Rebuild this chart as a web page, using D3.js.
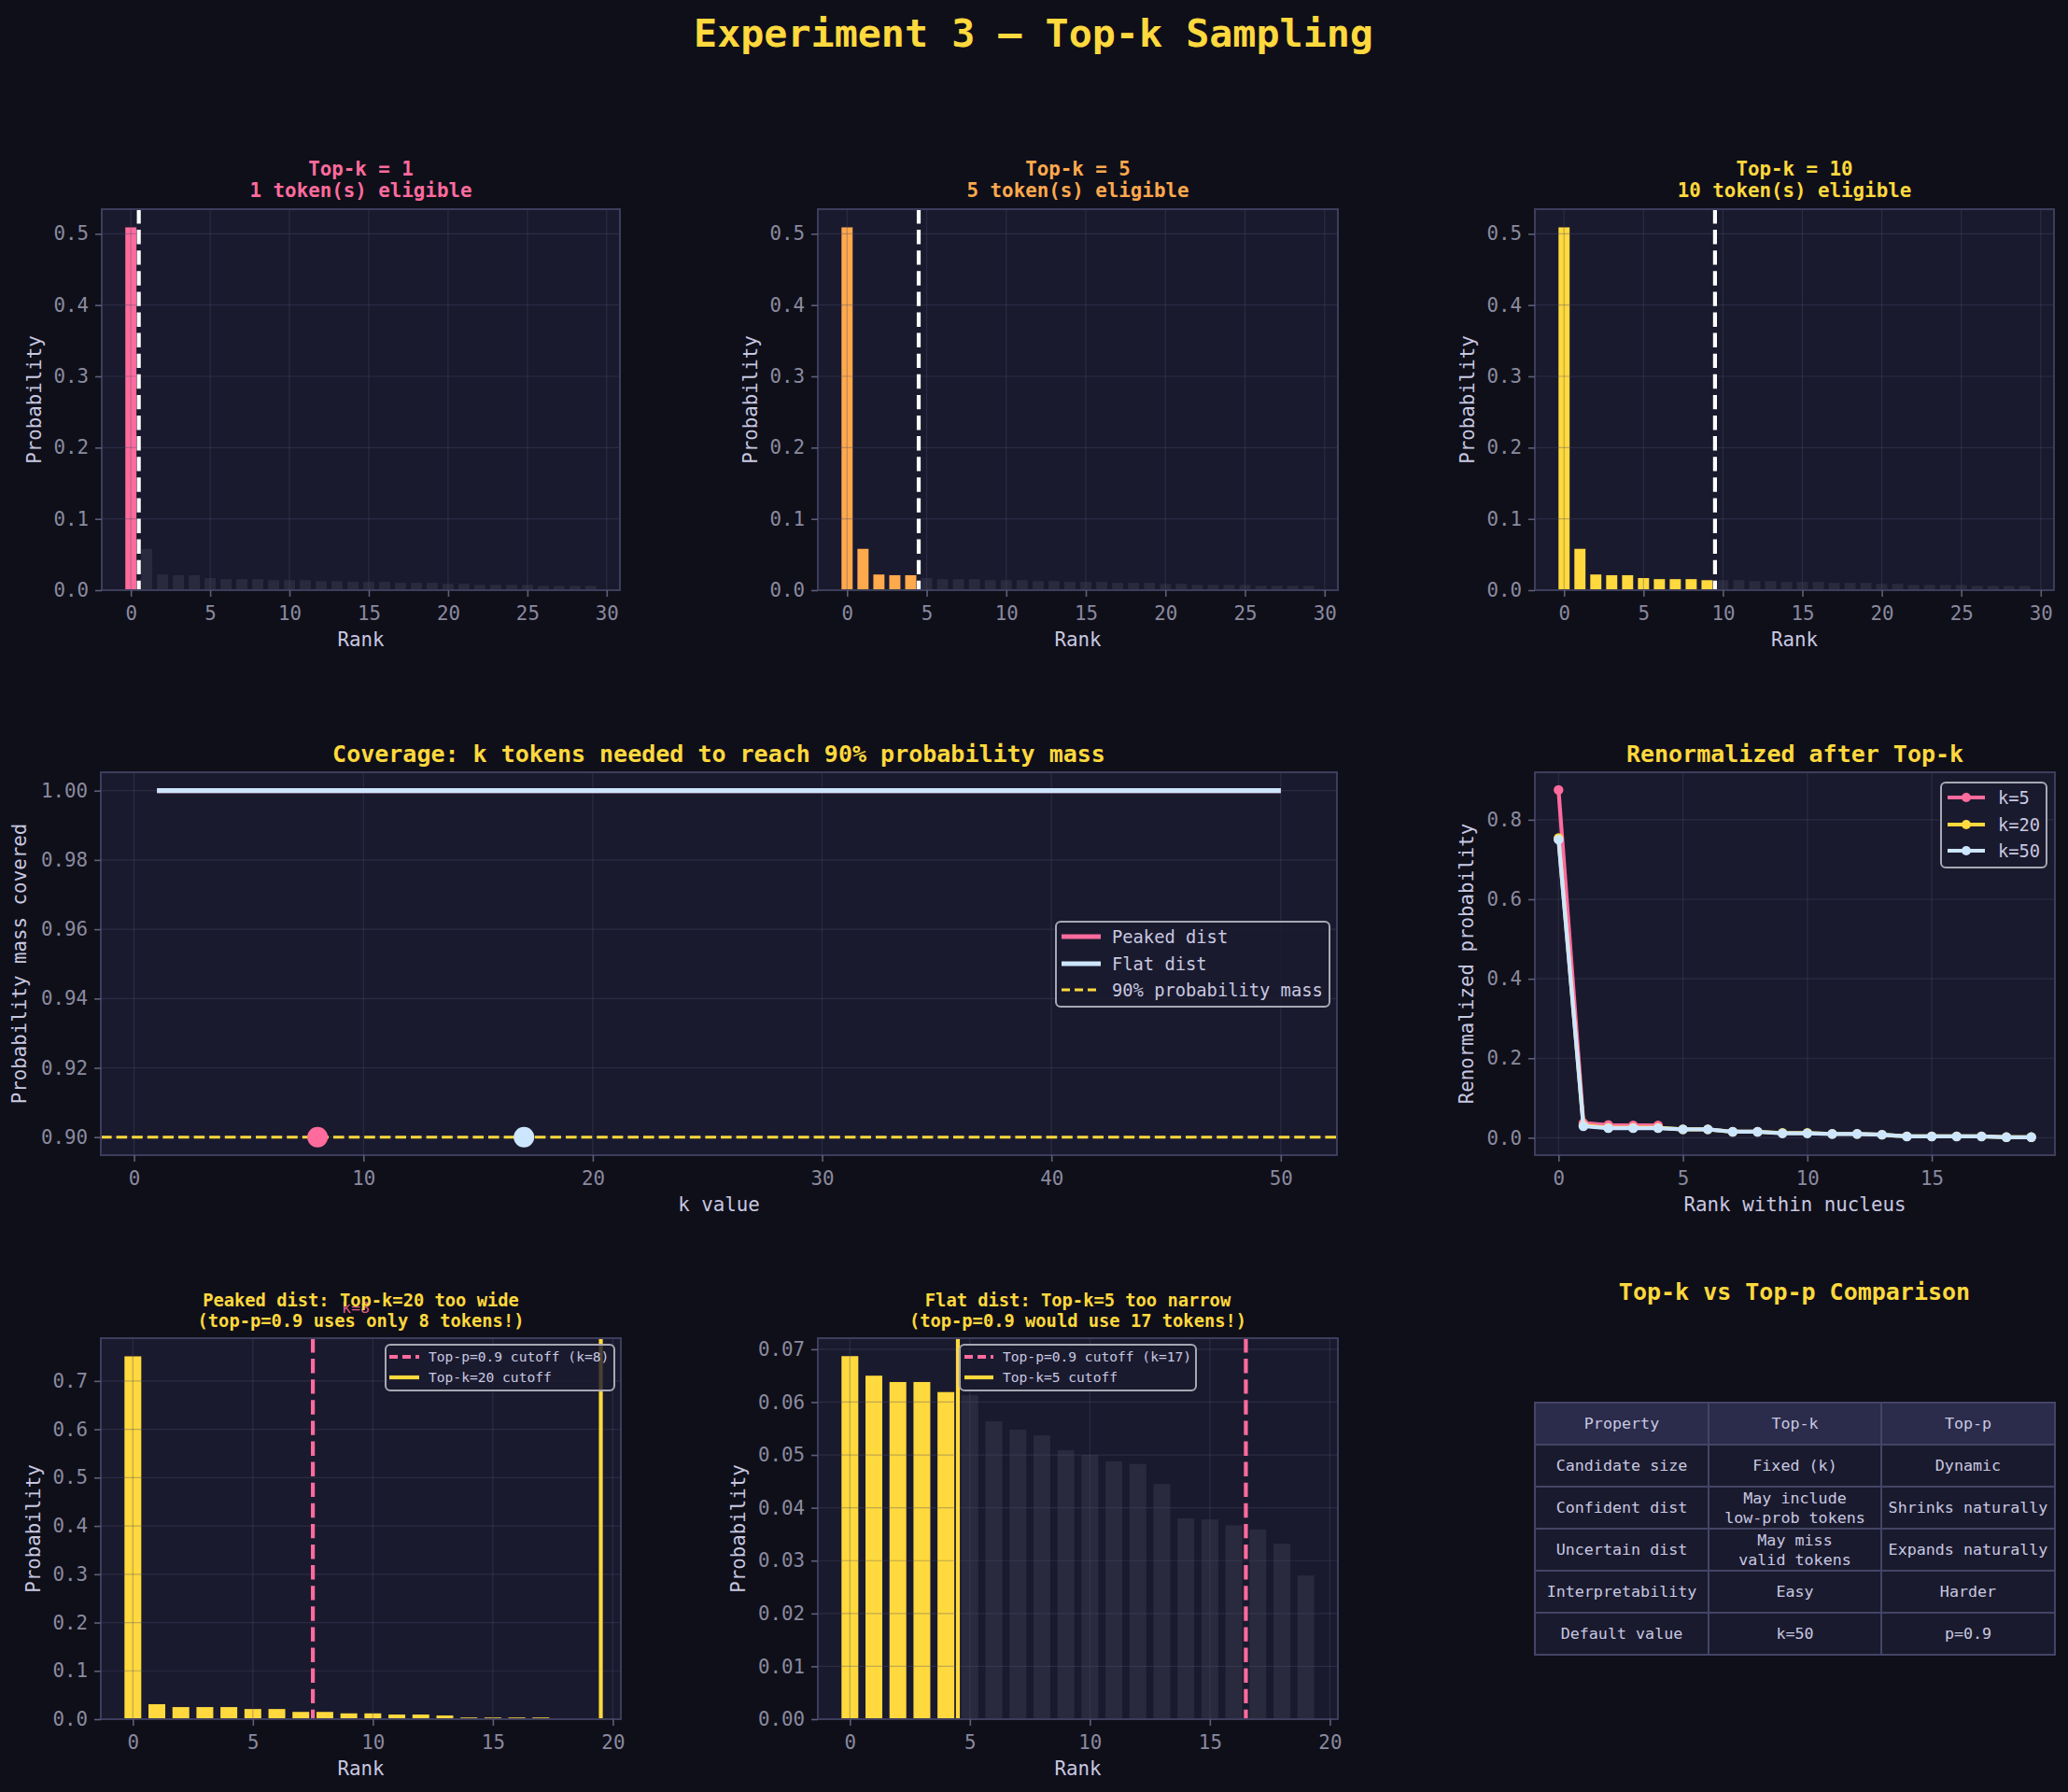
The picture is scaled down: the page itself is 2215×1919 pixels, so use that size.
<!DOCTYPE html>
<html>
<head>
<meta charset="utf-8">
<script src="https://cdn.jsdelivr.net/npm/d3@7"></script>
<style>
  body { margin: 0; background: #0f0f1a; }
  svg { display: block; font-family: "DejaVu Sans Mono", monospace; }
</style>
</head>
<body>
<svg id="fig" width="2215" height="1919"></svg>
<script>
// ---- data ----
// top row: one shared distribution, ranks 0..29
var baseProbs = [0.509, 0.058, 0.022, 0.021, 0.021, 0.017, 0.0155, 0.0155, 0.0155, 0.014,
                 0.014, 0.014, 0.0127, 0.0127, 0.0117, 0.0117, 0.0117, 0.0103, 0.0103, 0.0103,
                 0.0089, 0.0089, 0.0075, 0.0075, 0.0075, 0.0075, 0.0061, 0.0061, 0.0061, 0.0061];
var topKs = [1, 5, 10];
var topTicksX = [0, 5, 10, 15, 20, 25, 30];
var topTicksY = [0, 0.1, 0.2, 0.3, 0.4, 0.5];

// coverage chart
var coverageK = [1, 2, 3, 4, 5, 6, 7, 8, 9, 10, 11, 12, 13, 14, 15, 16, 17, 18, 19, 20, 21, 22, 23, 24, 25,
                 26, 27, 28, 29, 30, 31, 32, 33, 34, 35, 36, 37, 38, 39, 40, 41, 42, 43, 44, 45, 46, 47, 48, 49, 50];
var peakedCoverage = [1, 1, 1, 1, 1, 1, 1, 1, 1, 1, 1, 1, 1, 1, 1, 1, 1, 1, 1, 1, 1, 1, 1, 1, 1,
                      1, 1, 1, 1, 1, 1, 1, 1, 1, 1, 1, 1, 1, 1, 1, 1, 1, 1, 1, 1, 1, 1, 1, 1, 1];
var flatCoverage = [1, 1, 1, 1, 1, 1, 1, 1, 1, 1, 1, 1, 1, 1, 1, 1, 1, 1, 1, 1, 1, 1, 1, 1, 1,
                    1, 1, 1, 1, 1, 1, 1, 1, 1, 1, 1, 1, 1, 1, 1, 1, 1, 1, 1, 1, 1, 1, 1, 1, 1];
var massTarget = 0.9;
var peakedNeeded = 8;
var flatNeeded = 17;
var coverageTicksX = [0, 10, 20, 30, 40, 50];
var coverageTicksY = [0.90, 0.92, 0.94, 0.96, 0.98, 1.00];

// renormalized after top-k (first 20 ranks shown)
var renormK5  = [0.875, 0.037, 0.032, 0.031, 0.031];
var renormK20 = [0.754, 0.031, 0.025, 0.025, 0.025, 0.021, 0.021, 0.015, 0.015, 0.012,
                 0.012, 0.0096, 0.0096, 0.0076, 0.0034, 0.0034, 0.0034, 0.0034, 0.0014, 0.0014];
var renormK50 = [0.750, 0.029, 0.024, 0.024, 0.024, 0.021, 0.021, 0.015, 0.015, 0.011,
                 0.011, 0.0095, 0.0095, 0.0075, 0.0033, 0.0033, 0.0033, 0.0033, 0.0013, 0.0013];
var renormTicksX = [0, 5, 10, 15];
var renormTicksY = [0, 0.2, 0.4, 0.6, 0.8];

// bottom row distributions
var peakedProbs = [0.751, 0.031, 0.025, 0.025, 0.025, 0.021, 0.021, 0.015, 0.015, 0.012,
                   0.012, 0.0096, 0.0096, 0.0076, 0.0034, 0.0034, 0.0034, 0.0034, 0.0014, 0.0014];
var flatProbs = [0.0687, 0.0650, 0.0638, 0.0638, 0.0619, 0.0613, 0.0564, 0.0548, 0.0537, 0.0509,
                 0.0500, 0.0488, 0.0483, 0.0445, 0.0380, 0.0378, 0.0367, 0.0359, 0.0332, 0.0272];
var bottomTicksX = [0, 5, 10, 15, 20];
var peakedTicksY = [0, 0.1, 0.2, 0.3, 0.4, 0.5, 0.6, 0.7];
var flatTicksY = [0, 0.01, 0.02, 0.03, 0.04, 0.05, 0.06, 0.07];

// comparison table
var tableHeader = ["Property", "Top-k", "Top-p"];
var tableRows = [
  ["Candidate size", "Fixed (k)", "Dynamic"],
  ["Confident dist", "May include\nlow-prob tokens", "Shrinks naturally"],
  ["Uncertain dist", "May miss\nvalid tokens", "Expands naturally"],
  ["Interpretability", "Easy", "Harder"],
  ["Default value", "k=50", "p=0.9"]
];

// ---- styling ----
var BG = "#0f0f1a", AX_BG = "#1a1a2e", SPINE = "#3d3d5c", TICK_TXT = "#8a8a9e",
    LABEL = "#c8c8e0", GOLD = "#ffd93d", PINK = "#ff6b9d", ORANGE = "#ffa94d",
    ICE = "#cde6ff", GREY_BAR = "#2a2a3e";
var topColors = [PINK, ORANGE, GOLD];
var FS = 20.8;

var svg = d3.select("#fig");
svg.append("rect").attr("width", 2215).attr("height", 1919).attr("fill", BG);
var defs = svg.append("defs");
var clipN = 0;

// builds one axes box with grid, spines, ticks and labels
function panel(o) {
  var b = o.box;
  var x = d3.scaleLinear().domain(o.xDom).range([b.l, b.r]);
  var y = d3.scaleLinear().domain(o.yDom).range([b.b, b.t]);
  var g = svg.append("g");
  var id = "clip" + (clipN++);
  defs.append("clipPath").attr("id", id).append("rect")
    .attr("x", b.l).attr("y", b.t).attr("width", b.r - b.l).attr("height", b.b - b.t);

  g.append("rect").attr("x", b.l).attr("y", b.t).attr("width", b.r - b.l).attr("height", b.b - b.t)
    .attr("fill", AX_BG);
  var marks = g.append("g").attr("clip-path", "url(#" + id + ")");
  var grid = g.append("g").attr("clip-path", "url(#" + id + ")")
    .attr("stroke", "#4a4a6a").attr("stroke-opacity", 0.35).attr("stroke-width", 1.2);
  grid.selectAll(".gx").data(o.xTicks).join("line")
    .attr("x1", d => x(d)).attr("x2", d => x(d)).attr("y1", b.t).attr("y2", b.b);
  grid.selectAll(".gy").data(o.yTicks).join("line")
    .attr("y1", d => y(d)).attr("y2", d => y(d)).attr("x1", b.l).attr("x2", b.r);
  var over = g.append("g").attr("clip-path", "url(#" + id + ")");
  var top = g.append("g");

  g.append("rect").attr("x", b.l).attr("y", b.t).attr("width", b.r - b.l).attr("height", b.b - b.t)
    .attr("fill", "none").attr("stroke", SPINE).attr("stroke-width", 2);

  var ax = g.append("g").attr("transform", "translate(0," + b.b + ")")
    .call(d3.axisBottom(x).tickValues(o.xTicks).tickSize(7).tickPadding(10).tickFormat(d3.format("d")));
  var ay = g.append("g").attr("transform", "translate(" + b.l + ",0)")
    .call(d3.axisLeft(y).tickValues(o.yTicks).tickSize(7).tickPadding(7).tickFormat(d3.format(o.yFmt)));
  [ax, ay].forEach(function (a) {
    a.attr("font-family", null).attr("font-size", FS);
    a.select(".domain").remove();
    a.selectAll(".tick line").attr("stroke", "#5e5e7a").attr("stroke-width", 1.6);
    a.selectAll(".tick text").attr("fill", TICK_TXT);
  });

  g.append("text").attr("x", (b.l + b.r) / 2).attr("y", b.b + 60)
    .attr("text-anchor", "middle").attr("fill", LABEL).attr("font-size", FS).text(o.xLabel);
  g.append("text")
    .attr("transform", "translate(" + (b.l - o.yLabOff) + "," + ((b.t + b.b) / 2) + ") rotate(-90)")
    .attr("text-anchor", "middle").attr("fill", LABEL).attr("font-size", FS).text(o.yLabel);

  return { x: x, y: y, marks: marks, over: over, top: top, box: b, g: g };
}

function titleLines(p, lines, color, fs, offs) {
  lines.forEach(function (t, i) {
    p.g.append("text").attr("x", (p.box.l + p.box.r) / 2).attr("y", p.box.t + offs[i])
      .attr("text-anchor", "middle").attr("font-weight", "bold").attr("font-size", fs)
      .attr("fill", color).text(t);
  });
}

function bars(p, vals, colorFn) {
  p.marks.selectAll("rect.bar").data(vals).join("rect").attr("class", "bar")
    .attr("x", (d, i) => p.x(i - 0.35))
    .attr("width", p.x(0.35) - p.x(-0.35))
    .attr("y", d => p.y(d))
    .attr("height", d => p.y(0) - p.y(d))
    .attr("fill", (d, i) => colorFn(i));
}

function vline(p, xv, color, dash, w) {
  p.over.append("line").attr("x1", p.x(xv)).attr("x2", p.x(xv))
    .attr("y1", p.box.t).attr("y2", p.box.b)
    .attr("stroke", color).attr("stroke-width", w).attr("stroke-dasharray", dash);
}

// legend: items {label, color, dash, w, marker}
function legend(p, L, items, fs) {
  var lg = p.top.append("g");
  lg.append("rect").attr("x", L.x0).attr("y", L.y0).attr("width", L.x1 - L.x0).attr("height", L.y1 - L.y0)
    .attr("rx", 5).attr("fill", AX_BG).attr("fill-opacity", 0.8)
    .attr("stroke", "#a8a8b4").attr("stroke-width", 2);
  items.forEach(function (it, i) {
    var yy = L.rows[i];
    lg.append("line").attr("x1", L.h0).attr("x2", L.h1).attr("y1", yy).attr("y2", yy)
      .attr("stroke", it.color).attr("stroke-width", it.w).attr("stroke-dasharray", it.dash || null);
    if (it.marker) lg.append("circle").attr("cx", (L.h0 + L.h1) / 2).attr("cy", yy).attr("r", 5).attr("fill", it.color);
    lg.append("text").attr("x", L.tx).attr("y", yy).attr("dy", "0.35em")
      .attr("fill", LABEL).attr("font-size", fs).text(it.label);
  });
}

// ---- main title ----
svg.append("text").attr("x", 1107).attr("y", 50).attr("text-anchor", "middle")
  .attr("font-weight", "bold").attr("font-size", 41.7).attr("fill", GOLD)
  .text("Experiment 3 \u2014 Top-k Sampling");

// ---- top row: top-k = 1, 5, 10 ----
var topBoxes = [
  { l: 109, r: 664, t: 224, b: 632 },
  { l: 876, r: 1433, t: 224, b: 632 },
  { l: 1644, r: 2200, t: 224, b: 632 }
];
topKs.forEach(function (k, j) {
  var p = panel({ box: topBoxes[j], xDom: [-1.835, 30.835], yDom: [0, 0.5345],
    xTicks: topTicksX, yTicks: topTicksY, yFmt: ".1f",
    xLabel: "Rank", yLabel: "Probability", yLabOff: 65 });
  bars(p, baseProbs, i => i < k ? topColors[j] : GREY_BAR);
  vline(p, k - 0.5, "#ffffff", "15.4,6.7", 4.2);
  titleLines(p, ["Top-k = " + k, k + " token(s) eligible"], topColors[j], FS, [-36.5, -13.5]);
});

// ---- middle: coverage ----
var cov = panel({ box: { l: 108, r: 1432, t: 827, b: 1237 }, xDom: [-1.45, 52.45], yDom: [0.8948, 1.0053],
  xTicks: coverageTicksX, yTicks: coverageTicksY, yFmt: ".2f",
  xLabel: "k value", yLabel: "Probability mass covered", yLabOff: 80 });
var covLine = d3.line().x((d, i) => cov.x(coverageK[i])).y(d => cov.y(d));
cov.over.append("path").datum(peakedCoverage).attr("d", covLine).attr("fill", "none")
  .attr("stroke", PINK).attr("stroke-width", 5.2);
cov.over.append("path").datum(flatCoverage).attr("d", covLine).attr("fill", "none")
  .attr("stroke", ICE).attr("stroke-width", 5.2);
cov.over.append("line").attr("x1", cov.box.l).attr("x2", cov.box.r)
  .attr("y1", cov.y(massTarget)).attr("y2", cov.y(massTarget))
  .attr("stroke", GOLD).attr("stroke-width", 3.1).attr("stroke-dasharray", "11.6,5");
cov.over.append("circle").attr("cx", cov.x(peakedNeeded)).attr("cy", cov.y(massTarget)).attr("r", 11).attr("fill", PINK);
cov.over.append("circle").attr("cx", cov.x(flatNeeded)).attr("cy", cov.y(massTarget)).attr("r", 11).attr("fill", ICE);
titleLines(cov, ["Coverage: k tokens needed to reach 90% probability mass"], GOLD, 25, [-11]);
legend(cov, { x0: 1131, x1: 1424, y0: 987, y1: 1078, rows: [1003, 1032, 1060], h0: 1137, h1: 1179, tx: 1191 }, [
  { label: "Peaked dist", color: PINK, w: 5.2 },
  { label: "Flat dist", color: ICE, w: 5.2 },
  { label: "90% probability mass", color: GOLD, w: 3.1, dash: "9,5" }
], 18.75);

// ---- middle right: renormalized ----
var ren = panel({ box: { l: 1644, r: 2201, t: 827, b: 1237 }, xDom: [-0.95, 19.95], yDom: [-0.0438, 0.9195],
  xTicks: renormTicksX, yTicks: renormTicksY, yFmt: ".1f",
  xLabel: "Rank within nucleus", yLabel: "Renormalized probability", yLabOff: 66 });
[[renormK5, PINK], [renormK20, GOLD], [renormK50, ICE]].forEach(function (s) {
  var ln = d3.line().x((d, i) => ren.x(i)).y(d => ren.y(d));
  ren.over.append("path").datum(s[0]).attr("d", ln).attr("fill", "none")
    .attr("stroke", s[1]).attr("stroke-width", 4.2).attr("stroke-linejoin", "round");
  ren.over.selectAll(null).data(s[0]).join("circle")
    .attr("cx", (d, i) => ren.x(i)).attr("cy", d => ren.y(d)).attr("r", 5.2).attr("fill", s[1]);
});
titleLines(ren, ["Renormalized after Top-k"], GOLD, 25, [-11]);
legend(ren, { x0: 2079, x1: 2192, y0: 838, y1: 929, rows: [854, 883, 911], h0: 2086, h1: 2126, tx: 2140 }, [
  { label: "k=5", color: PINK, w: 4.2, marker: true },
  { label: "k=20", color: GOLD, w: 4.2, marker: true },
  { label: "k=50", color: ICE, w: 4.2, marker: true }
], 18.75);

// ---- bottom left: peaked dist ----
var pk = panel({ box: { l: 108, r: 665, t: 1433, b: 1841 }, xDom: [-1.335, 20.335], yDom: [0, 0.7886],
  xTicks: bottomTicksX, yTicks: peakedTicksY, yFmt: ".1f",
  xLabel: "Rank", yLabel: "Probability", yLabOff: 65 });
bars(pk, peakedProbs, i => i < 20 ? GOLD : GREY_BAR);
vline(pk, peakedNeeded - 0.5, PINK, "15.4,6.7", 4.2);
vline(pk, 19.5, GOLD, null, 4.2);
pk.g.append("text").attr("x", pk.x(8.7)).attr("y", pk.y(0.841))
  .attr("fill", PINK).attr("fill-opacity", 0.85).attr("font-size", 16.7).text("k=" + peakedNeeded);
titleLines(pk, ["Peaked dist: Top-k=20 too wide", "(top-p=0.9 uses only " + peakedNeeded + " tokens!)"], GOLD, 18.75, [-34, -12.5]);
legend(pk, { x0: 413, x1: 658, y0: 1440, y1: 1489, rows: [1453, 1475], h0: 417, h1: 449, tx: 459 }, [
  { label: "Top-p=0.9 cutoff (k=" + peakedNeeded + ")", color: PINK, w: 4.2, dash: "9,5" },
  { label: "Top-k=20 cutoff", color: GOLD, w: 4.2 }
], 14.6);

// ---- bottom middle: flat dist ----
var ft = panel({ box: { l: 876, r: 1433, t: 1433, b: 1841 }, xDom: [-1.335, 20.335], yDom: [0, 0.0721],
  xTicks: bottomTicksX, yTicks: flatTicksY, yFmt: ".2f",
  xLabel: "Rank", yLabel: "Probability", yLabOff: 78 });
bars(ft, flatProbs, i => i < 5 ? GOLD : GREY_BAR);
vline(ft, flatNeeded - 0.5, PINK, "15.4,6.7", 4.2);
vline(ft, 4.5, GOLD, null, 4.2);
titleLines(ft, ["Flat dist: Top-k=5 too narrow", "(top-p=0.9 would use " + flatNeeded + " tokens!)"], GOLD, 18.75, [-34, -12.5]);
legend(ft, { x0: 1028, x1: 1281, y0: 1440, y1: 1489, rows: [1453, 1475], h0: 1033, h1: 1064, tx: 1074 }, [
  { label: "Top-p=0.9 cutoff (k=" + flatNeeded + ")", color: PINK, w: 4.2, dash: "9,5" },
  { label: "Top-k=5 cutoff", color: GOLD, w: 4.2 }
], 14.6);

// ---- bottom right: comparison table ----
svg.append("text").attr("x", 1922).attr("y", 1392).attr("text-anchor", "middle")
  .attr("font-weight", "bold").attr("font-size", 25).attr("fill", GOLD).text("Top-k vs Top-p Comparison");
var colX = [1644, 1830, 2015, 2201];
var rowH = 45, tableTop = 1502;
var tbl = svg.append("g");
[tableHeader].concat(tableRows).forEach(function (row, r) {
  row.forEach(function (cell, c) {
    var x0 = colX[c], y0 = tableTop + r * rowH;
    tbl.append("rect").attr("x", x0).attr("y", y0).attr("width", colX[c + 1] - x0).attr("height", rowH)
      .attr("fill", r === 0 ? "#2b2b4b" : AX_BG).attr("stroke", "#444466").attr("stroke-width", 2);
    var parts = cell.split("\n");
    parts.forEach(function (t, k) {
      tbl.append("text").attr("x", (x0 + colX[c + 1]) / 2)
        .attr("y", y0 + rowH / 2 + (k - (parts.length - 1) / 2) * 21)
        .attr("dy", "0.35em").attr("text-anchor", "middle")
        .attr("fill", LABEL).attr("font-size", 16.7).text(t);
    });
  });
});
</script>
</body>
</html>
